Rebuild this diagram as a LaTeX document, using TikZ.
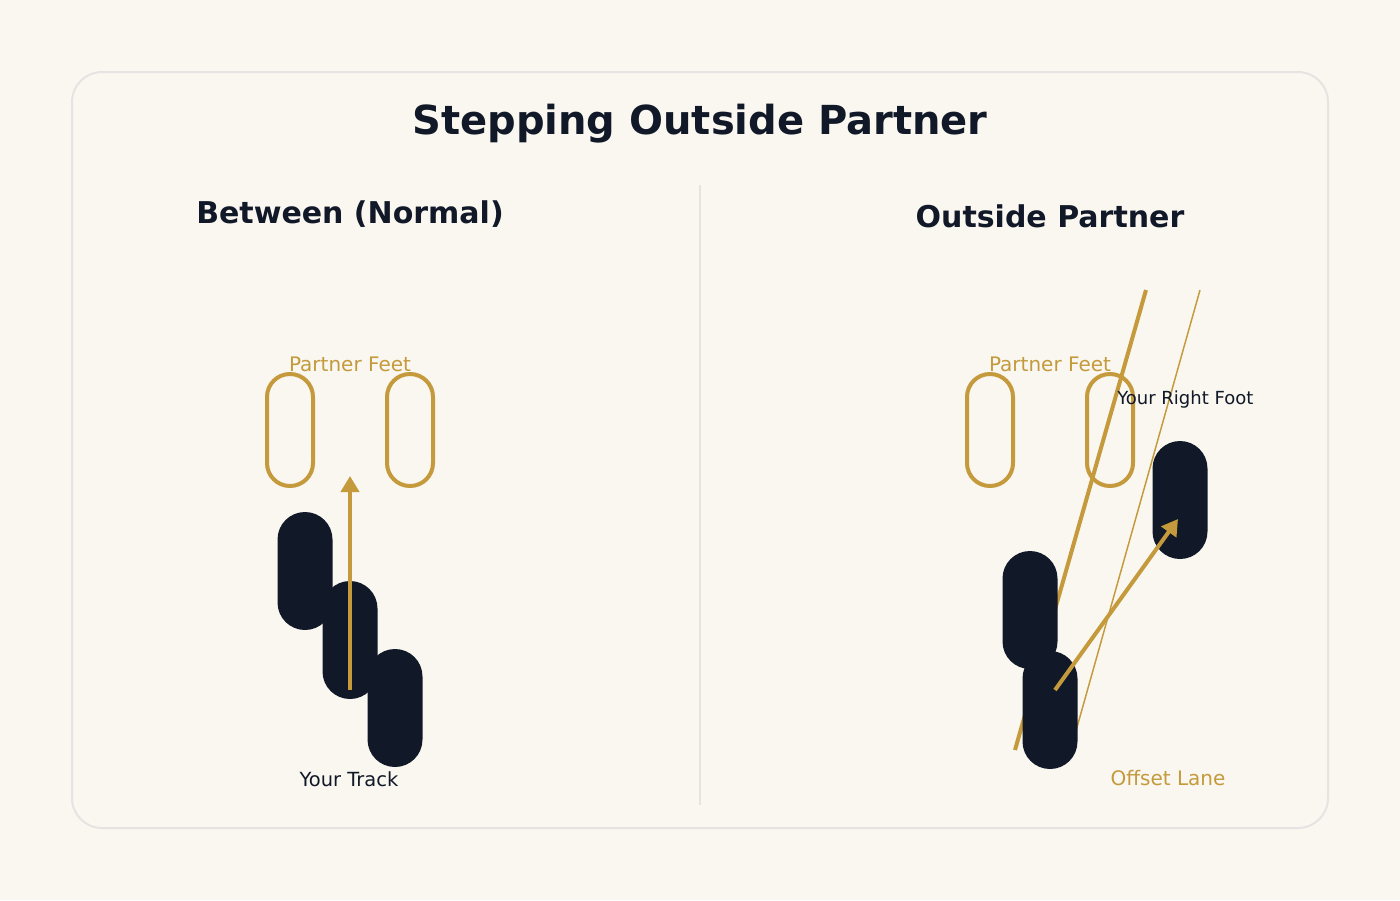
\documentclass[tikz,border=0pt]{standalone}
\usepackage{fontspec}
\setmainfont{DejaVu Sans}
\usetikzlibrary{arrows.meta}
\definecolor{bgcream}{HTML}{F9F7F0}
\definecolor{cardline}{HTML}{E6E4E2}
\definecolor{navy}{HTML}{111827}
\definecolor{gold}{HTML}{C49A3C}
\tikzset{
  foot/.style={draw=none,fill=navy,rectangle,rounded corners=20.6pt,minimum width=41.25pt,minimum height=88.5pt,inner sep=0pt},
  partnerfoot/.style={draw=gold,line width=3pt,rectangle,rounded corners=17.2pt,minimum width=34.5pt,minimum height=84pt,inner sep=0pt},
  steparrow/.style={draw=gold,line width=3pt,-{Triangle[length=12pt,width=13.5pt]}},
  lbl/.style={inner sep=0pt,font=\fontsize{15pt}{18pt}\selectfont}
}
\begin{document}
\begin{tikzpicture}[x=0.75pt,y=0.75pt,yscale=-1,xscale=1]
\fill[bgcream] (0,0) rectangle (1400,900);
\useasboundingbox (0,0) rectangle (1400,900);
% card
\draw[cardline,line width=1.5pt,fill=bgcream,rounded corners=22.5pt] (72,72) rectangle (1328,828);
\node[text=navy,font=\fontsize{30pt}{36pt}\selectfont\bfseries] (title) at (700,124) {Stepping Outside Partner};
\draw[cardline,line width=2pt] (700,185) -- (700,805);
% left panel
\node[text=navy,font=\fontsize{22.5pt}{27pt}\selectfont\bfseries] (leftttl) at (350,214) {Between (Normal)};
\node[partnerfoot] (pl1) at (290,430) {};
\node[partnerfoot] (pl2) at (410,430) {};
\node[foot] (f1) at (305,571) {};
\node[foot] (f2) at (350,640) {};
\node[foot] (f3) at (395,708) {};
\coordinate (ltrack0) at (350,690);
\coordinate (ltrack1) at (350,476);
\draw[steparrow] (ltrack0) -- (ltrack1);
\node[lbl,text=gold] (lpartner) at (350,364) {Partner Feet};
\node[lbl,text=navy,font=\fontsize{14.6pt}{17pt}\selectfont] (ltrack) at (349,779) {Your Track};
% right panel
\node[text=navy,font=\fontsize{22.5pt}{27pt}\selectfont\bfseries] (rightttl) at (1050,216) {Outside Partner};
\node[partnerfoot] (pr1) at (990,430) {};
\node[partnerfoot] (pr2) at (1110,430) {};
\coordinate (lane0) at (1015,750);
\coordinate (lane1) at (1146,290);
\coordinate (offs0) at (1072,745);
\coordinate (offs1) at (1200,290);
\draw[gold,line width=3pt] (lane0) -- (lane1);
\draw[gold,line width=1.1pt] (offs0) -- (offs1);
\node[foot] (g1) at (1030,610) {};
\node[foot] (g2) at (1050,710) {};
\node[foot] (g3) at (1180,500) {};
\coordinate (rstep0) at (1055,690);
\coordinate (rstep1) at (1178,519);
\draw[steparrow] (rstep0) -- (rstep1);
\node[lbl,text=gold] (rpartner) at (1050,364) {Partner Feet};
\node[lbl,text=navy,font=\fontsize{13.5pt}{16pt}\selectfont,anchor=west] (rfoot) at (1117,400) {Your Right Foot};
\node[lbl,text=gold] (offset) at (1168,778) {Offset Lane};
\end{tikzpicture}
\end{document}
